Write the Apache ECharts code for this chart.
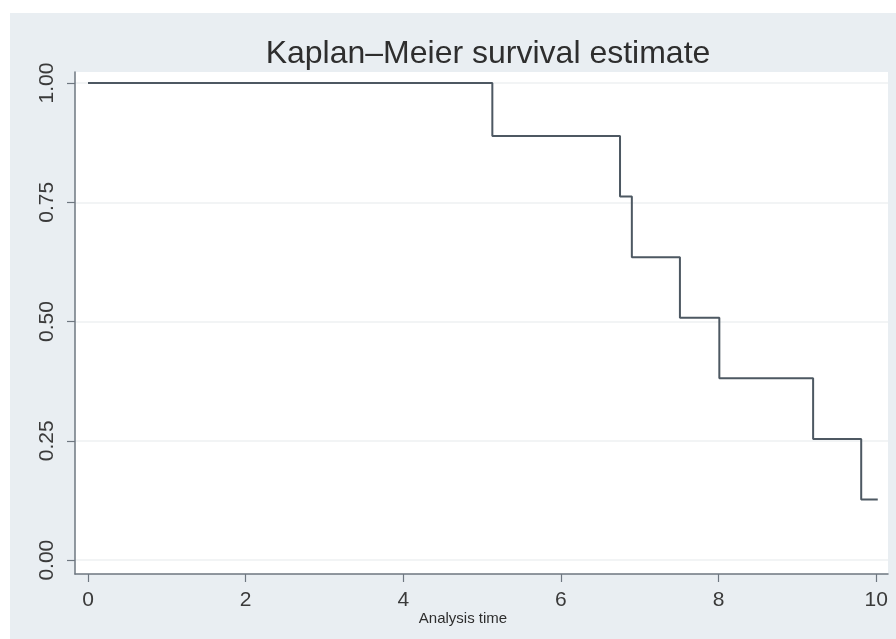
<!DOCTYPE html>
<html>
<head>
<meta charset="utf-8">
<script src="https://cdn.jsdelivr.net/npm/echarts@6/dist/echarts.min.js"></script>
<style>
  html, body { margin: 0; padding: 0; background: #ffffff; width: 896px; height: 639px; overflow: hidden; }
  #chart { position: absolute; left: 10px; top: 13px; width: 886px; height: 626px; background: #e9eef2; }
</style>
</head>
<body>
<div id="chart"></div>
<script>
// Kaplan–Meier step data (analysis time, survival probability)
var times = [0, 5.13, 6.75, 6.90, 7.51, 8.01, 9.20, 9.81, 10.02];
var survival = [1.0, 0.889, 0.762, 0.635, 0.508, 0.381, 0.254, 0.127, 0.127];
var xTicks = [0, 2, 4, 6, 8, 10];
var yTicks = [0, 0.25, 0.5, 0.75, 1.0];
var titleText = 'Kaplan–Meier survival estimate';
var xAxisTitle = 'Analysis time';

var chart = echarts.init(document.getElementById('chart'), null, { renderer: 'canvas' });
var fontFam = '"Liberation Sans", Arial, sans-serif';
var points = times.map(function (t, i) { return [t, survival[i]]; });

chart.setOption({
  animation: false,
  backgroundColor: '#e9eef2',
  title: [
    {
      text: titleText,
      left: 473, top: 20, textAlign: 'center',
      textStyle: { fontFamily: fontFam, fontSize: 32, fontWeight: 'normal', color: '#2e2e2e' }
    },
    {
      text: xAxisTitle,
      left: 448, top: 593, textAlign: 'center',
      textStyle: { fontFamily: fontFam, fontSize: 15, fontWeight: 'normal', color: '#2e2e2e' }
    }
  ],
  grid: {
    left: 65, top: 59, right: 8, bottom: 65,
    show: true, backgroundColor: '#ffffff', borderWidth: 0
  },
  xAxis: {
    type: 'value',
    min: -0.165, max: 10.15,
    axisLine: { show: true, onZero: false, lineStyle: { color: '#6e7780', width: 1.5 } },
    axisTick: { show: true, customValues: xTicks, length: 8, lineStyle: { color: '#6e7780', width: 1.2 } },
    axisLabel: {
      customValues: xTicks, margin: 16,
      fontFamily: fontFam, fontSize: 21, color: '#3a3a3a'
    },
    splitLine: { show: false }
  },
  yAxis: {
    type: 'value',
    min: -0.029, max: 1.023,
    axisLine: { show: true, onZero: false, lineStyle: { color: '#6e7780', width: 1.5 } },
    axisTick: { show: true, customValues: yTicks, length: 8, lineStyle: { color: '#6e7780', width: 1.2 } },
    axisLabel: {
      customValues: yTicks, margin: 17, rotate: 90,
      fontFamily: fontFam, fontSize: 21, color: '#3a3a3a',
      formatter: function (v) { return v.toFixed(2); }
    },
    splitLine: { show: true, lineStyle: { color: '#eef0f2', width: 1.5 } }
  },
  series: [{
    type: 'line',
    step: 'end',
    data: points,
    showSymbol: false,
    symbol: 'none',
    lineStyle: { color: '#4d5862', width: 2 }
  }]
});
</script>
</body>
</html>
